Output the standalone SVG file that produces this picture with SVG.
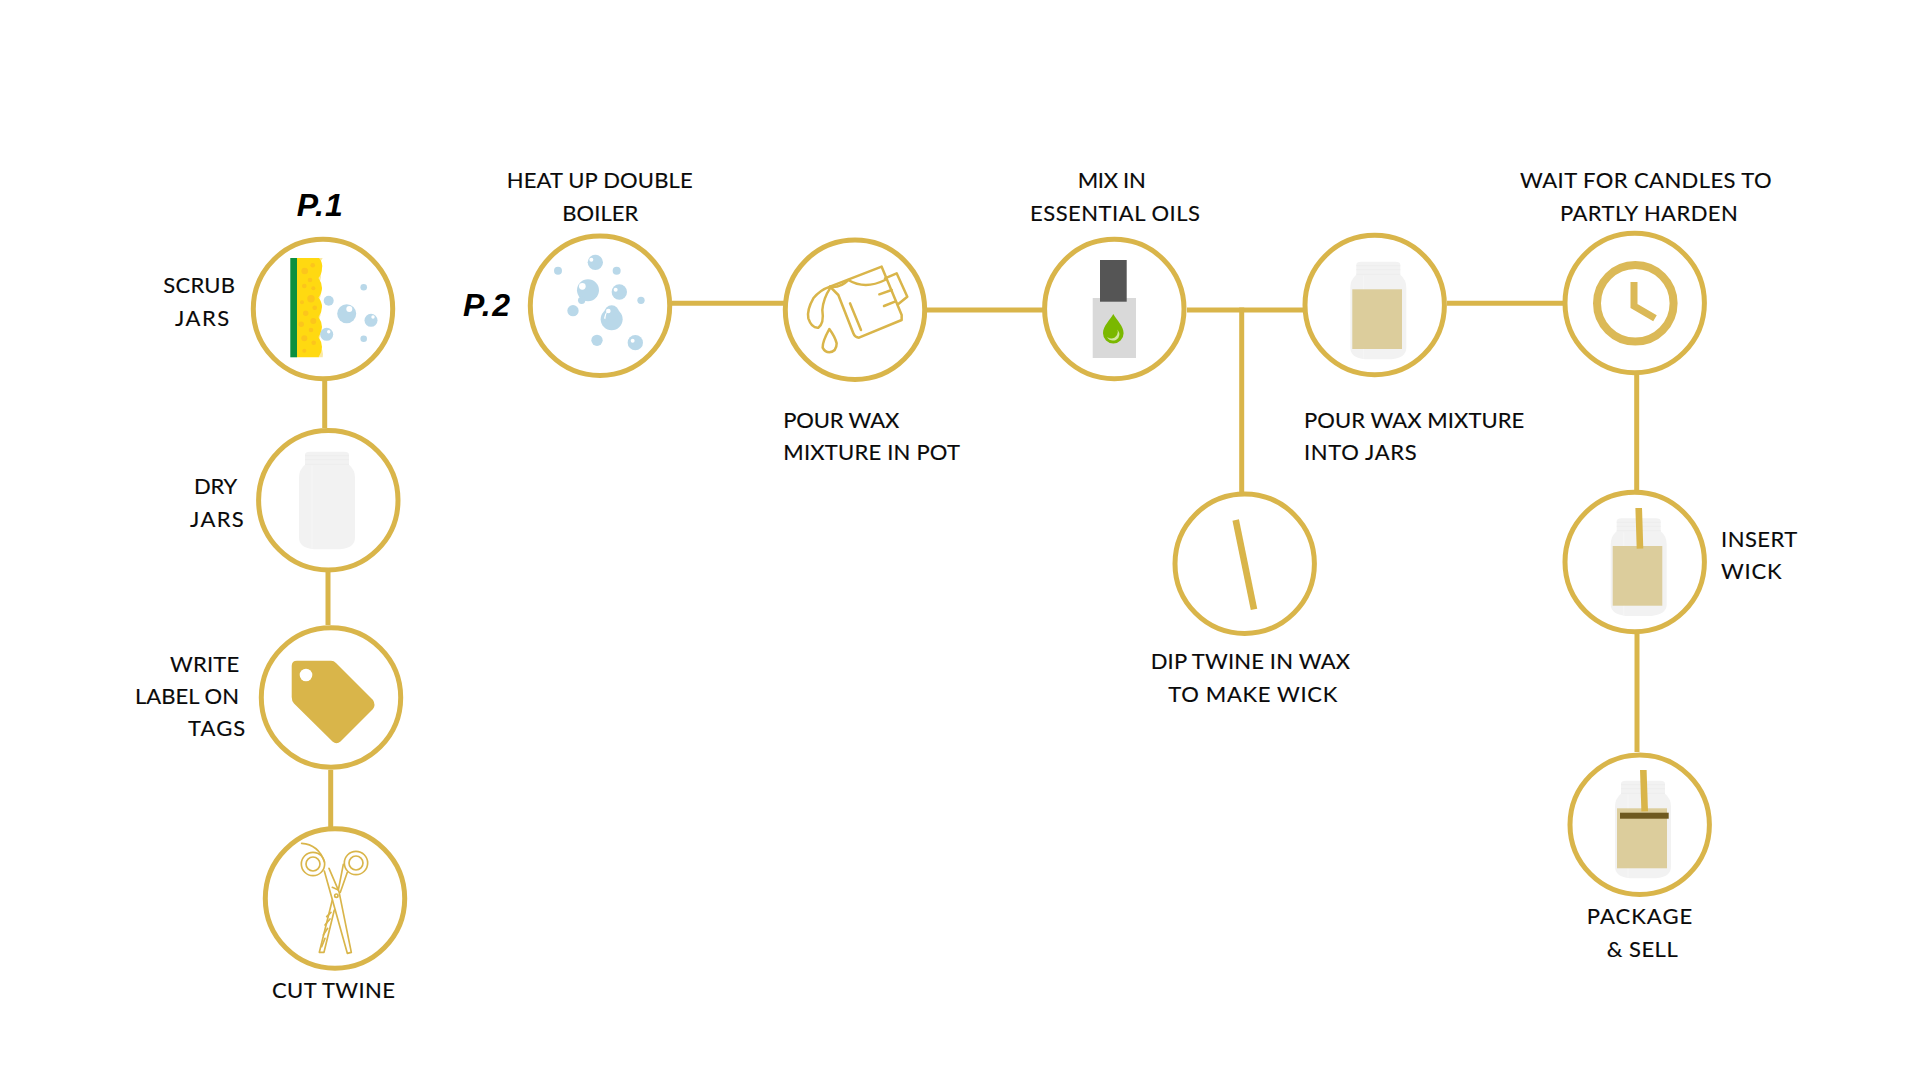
<svg xmlns="http://www.w3.org/2000/svg" xmlns:xlink="http://www.w3.org/1999/xlink" width="1920" height="1080" viewBox="0 0 1920 1080">
<style>
.ring{fill:#fff;stroke:#d9b54a;stroke-width:5}
.link{stroke:#d9b54a;stroke-width:5;fill:none}
.t{font-family:"Lato","Liberation Sans",sans-serif;font-size:22px;fill:#0a0a0a;stroke:#0a0a0a;stroke-width:.15}
.p{font-family:"Liberation Sans",Arial,sans-serif;font-size:32px;font-weight:bold;font-style:italic;fill:#000}
.gold{fill:#d9b54a}
.ln{fill:none;stroke:#d9b54a;stroke-linejoin:round;stroke-linecap:round}
.b{fill:#b9d8e9}
.h{fill:#fff}
.wax{fill:#dccd9c}
.wick{stroke:#d9b54a;stroke-width:6.6;fill:none}
.dot{fill:#fcc51c}
</style>
<defs>
<g id="jar">
<path fill="#f2f2f2" d="M1,3Q1,0 6,0H40Q45,0 45,3V13Q51,18 51,26V86Q51,96 36,97.6H10Q-5,96 -5,86V26Q-5,18 1,13Z"/>
<path fill="none" stroke="#ededed" stroke-width="1" d="M1,4H45M1,8H45M1,12.5H45"/>
<path fill="none" stroke="#f6f6f6" stroke-width="1" d="M8,14V97"/>
</g>
</defs>
<rect width="1920" height="1080" fill="#fff"/>
<g id="connectors">
<path class="link" d="M324.7,381V428"/>
<path class="link" d="M328,572V625"/>
<path class="link" d="M330.7,770V827"/>
<path class="link" d="M672,303.3H784"/>
<path class="link" d="M927,310H1043"/>
<path class="link" d="M1187,310H1303"/>
<path class="link" d="M1241.7,307.5V492"/>
<path class="link" d="M1447,303.3H1563"/>
<path class="link" d="M1636.7,375V490"/>
<path class="link" d="M1637,634V752"/>
</g>
<g id="label-p1"><text class="p" x="296.7" y="215.7" textLength="46">P.1</text></g>
<g id="label-p2"><text class="p" x="463" y="316" textLength="47">P.2</text></g>

<g id="node-scrub">
<circle class="ring" cx="323" cy="309" r="69.7"/>
<path fill="#fbe9a0" d="M318,258H322.7Q320,263 318,264ZM318,270Q324,277 318,284Q324,292 318,302Q324,310 318,322Q324,330 318,342Q324,350 322.7,357.3H318Z"/>
<rect x="290.3" y="258" width="6.7" height="99.3" fill="#0d8f3f"/>
<path fill="#ffd911" d="M297,258H319Q323,263 322,268Q322,274 318.5,278Q322,283 322,288Q322,293 318.5,297.5Q322,302 322,307Q322,312 318.5,317Q322,322 322,327Q322,332 318.5,337Q322,342 322,347Q322,352 318.5,357.3H297Z"/>
<g class="dot">
<circle cx="304.7" cy="271" r="3.3"/><circle cx="312.7" cy="265.3" r="2.3"/><circle cx="310" cy="280" r="2.3"/><circle cx="304.3" cy="286" r="2.3"/><circle cx="313.3" cy="288.3" r="2"/><circle cx="311" cy="298.7" r="3.7"/><circle cx="302" cy="302.3" r="2"/><circle cx="314.7" cy="307.7" r="2.3"/><circle cx="305.7" cy="313.3" r="2.7"/><circle cx="313.3" cy="321" r="3"/><circle cx="301.3" cy="324.3" r="2.7"/><circle cx="311" cy="330" r="2.3"/><circle cx="304.3" cy="338.3" r="3"/><circle cx="313.7" cy="342.7" r="2.3"/><circle cx="304.3" cy="350.7" r="2"/>
</g>
<g class="b">
<circle cx="328.7" cy="300.7" r="5"/><circle cx="346.7" cy="313.7" r="9.5"/><circle cx="371" cy="320.3" r="6.5"/><circle cx="326.7" cy="334.3" r="6.5"/><circle cx="363.7" cy="287.3" r="3.3"/><circle cx="363.7" cy="338.7" r="3.3"/>
</g>
<g class="h"><circle cx="349.3" cy="309" r="3"/><circle cx="373" cy="317" r="1.7"/><circle cx="328.7" cy="331.7" r="1.7"/></g>
<text class="t" x="163.3" y="292.7" textLength="71.7">SCRUB</text>
<text class="t" x="175" y="325.7" textLength="54.3">JARS</text>
</g>

<g id="node-dry">
<circle class="ring" cx="328.3" cy="500.3" r="69.7"/>
<use xlink:href="#jar" href="#jar" x="304" y="451.7"/>
<text class="t" x="194" y="494" textLength="43.3">DRY</text>
<text class="t" x="190" y="526.7" textLength="53.7">JARS</text>
</g>

<g id="node-label">
<circle class="ring" cx="331" cy="697.5" r="69.7"/>
<path class="gold" d="M297,660.7H331Q334,660.7 336,663L373,700Q376,705 373,709L340.5,741.5Q336.5,745 332.5,741.5L294,703.5Q291.7,701 291.7,697V666Q291.7,660.7 297,660.7Z"/>
<circle class="h" cx="306" cy="675" r="6.3"/>
<text class="t" x="170" y="671.7" textLength="69.3">WRITE</text>
<text class="t" x="135" y="704" textLength="104">LABEL ON</text>
<text class="t" x="188" y="735.8" textLength="57.3">TAGS</text>
</g>

<g id="node-cut">
<circle class="ring" cx="335" cy="898.5" r="69.7"/>
<g transform="translate(255,835) scale(.3333)" class="ln" stroke-width="5">
<circle cx="174" cy="87" r="35"/><circle cx="174" cy="87" r="21"/>
<circle cx="303" cy="84" r="35"/><circle cx="303" cy="84" r="21"/>
<path d="M140,25Q190,28 208,80"/>
<path d="M208,108L277,355L289,352L252,170L222,100"/>
<path d="M265,88L250,165L232,157M277,112L256,172"/>
<path d="M232,195L193,352L207,352L238,225"/>
<path d="M228,232L215,245M225,252L210,270M218,280L205,300M210,310L200,335"/>
<circle cx="244" cy="182" r="5"/>
</g>
<text class="t" x="272" y="998" textLength="123">CUT TWINE</text>
</g>

<g id="node-heat">
<circle class="ring" cx="600" cy="305.7" r="69.7"/>
<g transform="translate(530,230) scale(.3333)">
<g class="b">
<circle cx="196" cy="97" r="23"/><circle cx="84" cy="122" r="12"/><circle cx="260" cy="122" r="12"/><circle cx="174" cy="181" r="33"/><circle cx="155" cy="211" r="11"/><circle cx="268" cy="186" r="23"/><circle cx="333" cy="211" r="11"/><circle cx="129" cy="242" r="17"/><circle cx="245" cy="268" r="33"/><circle cx="245" cy="248" r="22"/><circle cx="201" cy="331" r="17"/><circle cx="316" cy="338" r="23"/>
</g>
<g class="h">
<circle cx="184" cy="89" r="6"/><circle cx="157" cy="169" r="10"/><circle cx="257" cy="179" r="6"/><circle cx="235" cy="243" r="7"/><circle cx="308" cy="332" r="6"/>
<path d="M222,265Q224,250 232,243Q227,255 226,268Z"/>
</g>
</g>
<text class="t" x="506.7" y="187.7" textLength="186">HEAT UP DOUBLE</text>
<text class="t" x="562.3" y="220.7" textLength="76">BOILER</text>
</g>

<g id="node-pour">
<circle class="ring" cx="855" cy="309.7" r="69.7"/>
<g transform="translate(785,235) scale(.3333)" class="ln" stroke-width="7.5">
<path d="M135,155L290,95L350,240V255L222,308Q210,308 205,295L160,180L135,155"/>
<path d="M135,155Q165,160 190,135Q240,165 300,135"/>
<path d="M300,130L335,115L367,185L340,207"/>
<path d="M283,178L320,165M297,213L330,200"/>
<path d="M195,205L228,285"/>
<path d="M135,155Q105,165 85,190Q65,225 70,250Q80,280 100,278Q118,265 112,225Q115,190 135,160"/>
<path d="M133,282Q112,320 113,338Q120,352 133,352Q155,350 155,325Q150,305 133,282Z"/>
</g>
<text class="t" x="783.3" y="427.7" textLength="116">POUR WAX</text>
<text class="t" x="783.3" y="459.7" textLength="176.7">MIXTURE IN POT</text>
</g>

<g id="node-oils">
<circle class="ring" cx="1114.3" cy="309" r="69.7"/>
<rect x="1092.7" y="298" width="43.3" height="60" fill="#d9d9d9"/>
<rect x="1100" y="260" width="26.7" height="41.7" fill="#555"/>
<path fill="#7ab800" d="M1113.3,314C1110,320 1103,326 1103,333.3A10.3,10.3 0 0 0 1123.6,333.3C1123.6,326 1116.6,320 1113.3,314Z"/>
<path fill="#d2e6a0" d="M1107,337Q1113,341 1117,335Q1118.5,332 1117.5,329.5Q1122,336 1116,340Q1110,342 1107,337Z"/>
<text class="t" x="1077.7" y="187.7" textLength="68">MIX IN</text>
<text class="t" x="1030" y="220.7" textLength="170">ESSENTIAL OILS</text>
</g>

<g id="node-jars">
<circle class="ring" cx="1374.7" cy="305" r="69.7"/>
<use xlink:href="#jar" href="#jar" x="1355.3" y="261.7"/>
<rect class="wax" x="1352.3" y="289.3" width="49.7" height="59.7"/>
<text class="t" x="1304" y="427.7" textLength="220.3">POUR WAX MIXTURE</text>
<text class="t" x="1304" y="459.7" textLength="112.7">INTO JARS</text>
</g>

<g id="node-dip">
<circle class="ring" cx="1244.7" cy="563.7" r="69.7"/>
<path class="wick" d="M1235.7,520L1254,609.3"/>
<text class="t" x="1150.7" y="669" textLength="199.3">DIP TWINE IN WAX</text>
<text class="t" x="1168.3" y="701.7" textLength="169">TO MAKE WICK</text>
</g>

<g id="node-wait">
<circle class="ring" cx="1634.7" cy="303" r="69.7"/>
<circle cx="1635.3" cy="303.3" r="38.3" fill="none" stroke="#dbb957" stroke-width="8"/>
<path d="M1634,282V306L1655,318.3" fill="none" stroke="#dbb957" stroke-width="7"/>
<text class="t" x="1520" y="187.7" textLength="251.7">WAIT FOR CANDLES TO</text>
<text class="t" x="1560" y="220.7" textLength="177.7">PARTLY HARDEN</text>
</g>

<g id="node-insert">
<circle class="ring" cx="1634.7" cy="562" r="69.7"/>
<use xlink:href="#jar" href="#jar" x="1615.7" y="518.3"/>
<rect class="wax" x="1612.7" y="546" width="49.6" height="59.7"/>
<path class="wick" d="M1638.7,508L1640,548.7"/>
<text class="t" x="1721" y="546.7" textLength="76.3">INSERT</text>
<text class="t" x="1721" y="578.7" textLength="60.7">WICK</text>
</g>

<g id="node-package">
<circle class="ring" cx="1639.7" cy="824.8" r="69.7"/>
<use xlink:href="#jar" href="#jar" x="1620" y="780.7"/>
<rect class="wax" x="1617" y="808.3" width="50" height="60"/>
<path class="wick" d="M1643.3,770L1644.7,811.3"/>
<rect x="1620" y="812.7" width="48.7" height="6" fill="#6f5a20"/>
<text class="t" x="1586.7" y="923.7" textLength="105.6">PACKAGE</text>
<text class="t" x="1606.7" y="956.7" textLength="71">&amp; SELL</text>
</g>
</svg>
